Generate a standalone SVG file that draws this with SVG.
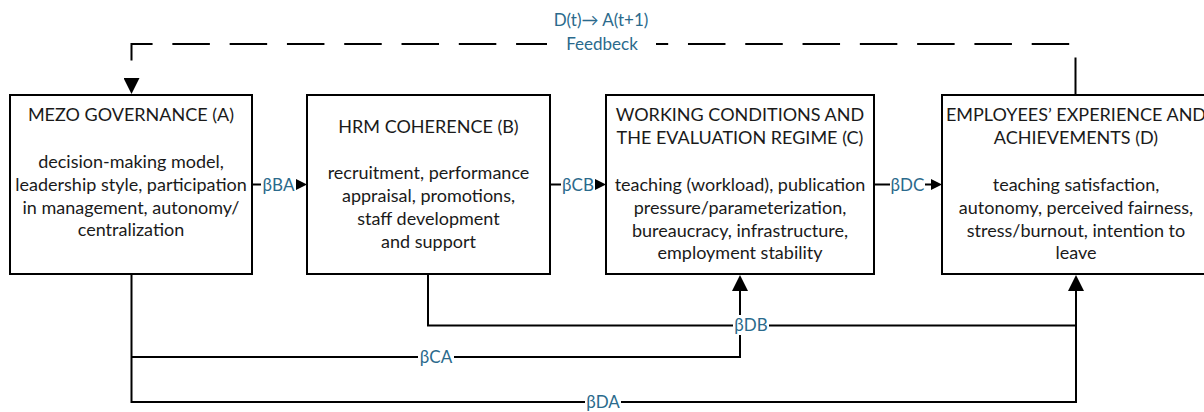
<svg xmlns="http://www.w3.org/2000/svg" width="1204" height="412" viewBox="0 0 1204 412">
  <style>
    .box { fill: #ffffff; stroke: #000000; stroke-width: 2; }
    .t { font-family: Lato, "Liberation Sans", sans-serif; font-size: 18px; fill: #1a1a1a; text-anchor: middle; }
    .wire { fill: none; stroke: #000000; stroke-width: 2; }
    .lbl { font-family: Lato, "Liberation Sans", sans-serif; font-size: 17px; fill: #2b6a8c; text-anchor: middle; }
    .bg { fill: #ffffff; }
  </style>
  <defs>
    <marker id="ahBig" markerUnits="userSpaceOnUse" markerWidth="16" markerHeight="16" refX="0" refY="8" orient="auto" viewBox="0 0 16 16">
      <path d="M0,0 L16,8 L0,16 Z" fill="#000000"/>
    </marker>
    <marker id="ahSmall" markerUnits="userSpaceOnUse" markerWidth="11" markerHeight="11" refX="0" refY="5.5" orient="auto" viewBox="0 0 11 11">
      <path d="M0,0 L11,5.5 L0,11 Z" fill="#000000"/>
    </marker>
  </defs>

  <!-- connectors -->
  <g id="connectors">
    <!-- feedback loop D -> A -->
    <path class="wire" d="M1075.5,95 V44 H131.5 V78" stroke-dasharray="37.5 19.79" marker-end="url(#ahBig)"/>
    <rect class="bg" x="547" y="34" width="109" height="20"/>
    <text class="lbl" x="601" y="26">D(t)→ A(t+1)</text>
    <text class="lbl" x="602" y="50">Feedbeck</text>

    <!-- chain A -> B -> C -> D -->
    <path class="wire" d="M252,184.5 H296" marker-end="url(#ahSmall)"/>
    <rect class="bg" x="261" y="174" width="35" height="21"/>
    <text class="lbl" x="278.5" y="190.5">βBA</text>

    <path class="wire" d="M550,184.5 H595" marker-end="url(#ahSmall)"/>
    <rect class="bg" x="561" y="174" width="34" height="21"/>
    <text class="lbl" x="578" y="190.5">βCB</text>

    <path class="wire" d="M874,184.5 H931" marker-end="url(#ahSmall)"/>
    <rect class="bg" x="890" y="174" width="35" height="21"/>
    <text class="lbl" x="907.5" y="190.5">βDC</text>

    <!-- direct paths below the boxes -->
    <path class="wire" d="M131.5,274 V402 H1076 V291" marker-end="url(#ahBig)"/>
    <path class="wire" d="M131.5,357 H740 V291" marker-end="url(#ahBig)"/>
    <path class="wire" d="M428,274 V325.5 H1076"/>

    <rect class="bg" x="733" y="315" width="36" height="20"/>
    <text class="lbl" x="751" y="331">βDB</text>
    <rect class="bg" x="418" y="347" width="36" height="20"/>
    <text class="lbl" x="436" y="363">βCA</text>
    <rect class="bg" x="585" y="392" width="36" height="20"/>
    <text class="lbl" x="603" y="408">βDA</text>
  </g>

  <!-- A: mezo governance -->
  <g id="nodeA">
    <rect class="box" x="10" y="95" width="242" height="179"/>
    <text class="t" x="131" y="121">MEZO GOVERNANCE (A)</text>
    <text class="t" x="131" y="168">decision-making model,</text>
    <text class="t" x="131" y="191">leadership style, participation</text>
    <text class="t" x="131" y="214">in management, autonomy/</text>
    <text class="t" x="131" y="236">centralization</text>
  </g>

  <!-- B: HRM coherence -->
  <g id="nodeB">
    <rect class="box" x="307" y="95" width="243" height="179"/>
    <text class="t" x="428.5" y="133">HRM COHERENCE (B)</text>
    <text class="t" x="428.5" y="179">recruitment, performance</text>
    <text class="t" x="428.5" y="202">appraisal, promotions,</text>
    <text class="t" x="428.5" y="225">staff development</text>
    <text class="t" x="428.5" y="248">and support</text>
  </g>

  <!-- C: working conditions -->
  <g id="nodeC">
    <rect class="box" x="606" y="95" width="268" height="179"/>
    <text class="t" x="740" y="121">WORKING CONDITIONS AND</text>
    <text class="t" x="740" y="144">THE EVALUATION REGIME (C)</text>
    <text class="t" x="740" y="191">teaching (workload), publication</text>
    <text class="t" x="740" y="214">pressure/parameterization,</text>
    <text class="t" x="740" y="237">bureaucracy, infrastructure,</text>
    <text class="t" x="740" y="259">employment stability</text>
  </g>

  <!-- D: employees' experience -->
  <g id="nodeD">
    <rect class="box" x="942" y="95" width="268" height="179"/>
    <text class="t" x="1076" y="121">EMPLOYEES’ EXPERIENCE AND</text>
    <text class="t" x="1076" y="144">ACHIEVEMENTS (D)</text>
    <text class="t" x="1076" y="191">teaching satisfaction,</text>
    <text class="t" x="1076" y="214">autonomy, perceived fairness,</text>
    <text class="t" x="1076" y="237">stress/burnout, intention to</text>
    <text class="t" x="1076" y="259">leave</text>
  </g>
</svg>
